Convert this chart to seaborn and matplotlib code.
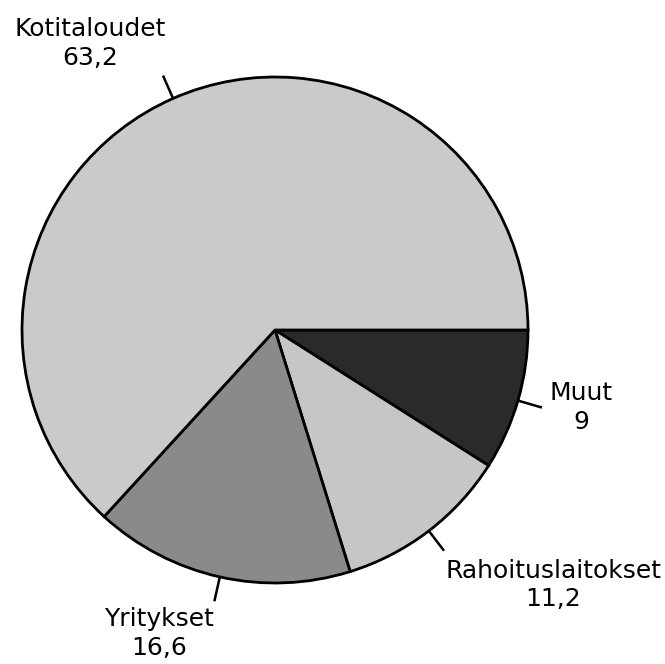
import numpy as np
import matplotlib
matplotlib.use('Agg')
import matplotlib.pyplot as plt
import seaborn as sns

# slices in drawing order (clockwise from 3 o'clock)
labels = ['Muut', 'Rahoituslaitokset', 'Yritykset', 'Kotitaloudet']
values = [9, 11.2, 16.6, 63.2]
value_text = ['9', '11,2', '16,6', '63,2']
grays = ['#2a2a2a', '#c6c6c6', '#8a8a8a', '#cacaca']

sns.set_theme(style='white')
plt.rcParams['font.family'] = ['DejaVu Sans']

W, H = 665, 664
fig = plt.figure(figsize=(W / 100, H / 100), dpi=100)
ax = fig.add_axes([0, 0, 1, 1])

cx, cy, R = 275, 334, 253
wedges, _ = ax.pie(values, startangle=0, counterclock=False, colors=grays,
                   center=(cx, cy), radius=R,
                   wedgeprops=dict(edgecolor='black', linewidth=2.0))

# label placement: (offset x, offset y) from end of leader line, alignment
label_pos = {
    'Muut': (39, 0, 'center'),
    'Rahoituslaitokset': (109, -8, 'top'),
    'Yritykset': (-55, -6, 'top'),
    'Kotitaloudet': (-73, 6, 'bottom'),
}

for w, lab, vt in zip(wedges, labels, value_text):
    mid = np.deg2rad((w.theta1 + w.theta2) / 2)
    x0, y0 = cx + R * np.cos(mid), cy + R * np.sin(mid)
    x1, y1 = cx + (R + 25) * np.cos(mid), cy + (R + 25) * np.sin(mid)
    ax.plot([x0, x1], [y0, y1], color='black', lw=1.8, solid_capstyle='butt')
    dx, dy, va = label_pos[lab]
    ax.annotate(f'{lab}\n{vt}', (x1, y1), xytext=(dx, dy),
                textcoords='offset pixels', ha='center', va=va,
                multialignment='center', fontsize=18, linespacing=1.25,
                color='black')

ax.set_xlim(0, W)
ax.set_ylim(0, H)
ax.set_aspect('equal')
ax.axis('off')

fig.savefig('out.png', dpi=100, facecolor='white')
